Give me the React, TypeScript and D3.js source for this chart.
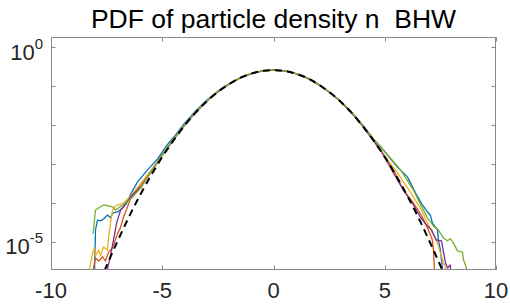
import { useEffect, useRef } from "react";
import * as d3 from "d3";

// each point: [x, log10(pdf)]
const blue: [number, number][] = [
  [-8.1, -6.2], [-8.04, -5.67], [-8.0, -4.69], [-7.91, -4.44], [-7.77, -4.46], [-7.64, -4.41],
  [-7.46, -4.31], [-7.32, -4.38], [-7.23, -4.26], [-7.01, -4.23], [-6.78, -4.13], [-6.6, -4.0],
  [-6.42, -3.77], [-6.11, -3.46], [-5.66, -3.15], [-5.2, -2.86], [-4.8, -2.52], [-4.4, -2.25],
  [-4, -1.96], [-3.5, -1.64], [-3, -1.36], [-2.5, -1.13], [-2, -0.94], [-1.5, -0.79], [-1, -0.68],
  [-0.5, -0.61], [0, -0.59], [0.5, -0.61], [1, -0.68], [1.5, -0.79], [2, -0.95], [2.5, -1.15],
  [3, -1.38], [3.5, -1.66], [4, -1.99], [4.5, -2.36], [4.94, -2.64], [5.57, -3.08], [6.02, -3.33],
  [6.38, -3.74], [6.69, -4.05], [6.92, -4.23], [7.05, -4.31], [7.14, -4.51], [7.37, -4.69],
  [7.41, -4.95], [7.5, -5.21], [7.59, -5.67], [7.62, -6.2],
];

const orange: [number, number][] = [
  [-8.12, -6.2], [-8.09, -5.67], [-8.0, -5.41], [-7.86, -5.49], [-7.68, -5.38], [-7.55, -5.49],
  [-7.41, -5.26], [-7.23, -5.15], [-7.14, -5.0], [-7.01, -4.79], [-6.87, -4.62], [-6.74, -4.36],
  [-6.56, -4.1], [-6.42, -3.87], [-6.0, -3.55], [-5.5, -3.18], [-5, -2.76], [-4.5, -2.36],
  [-4, -2.0], [-3.5, -1.67], [-3, -1.38], [-2.5, -1.14], [-2, -0.95], [-1.5, -0.79], [-1, -0.68],
  [-0.5, -0.61], [0, -0.59], [0.5, -0.61], [1, -0.68], [1.5, -0.79], [2, -0.95], [2.5, -1.15],
  [3, -1.39], [3.5, -1.68], [4, -2.02], [4.4, -2.33], [4.81, -2.64], [5.39, -3.15], [5.84, -3.67],
  [6.29, -4.0], [6.69, -4.36], [6.96, -4.69], [7.14, -4.95], [7.19, -5.21], [7.23, -5.67], [7.24, -6.2],
];

const yellow: [number, number][] = [
  [-8.3, -6.2], [-8.27, -5.69], [-8.13, -5.28], [-8.04, -5.15], [-8.0, -5.36], [-7.86, -5.21],
  [-7.77, -5.36], [-7.64, -5.13], [-7.46, -5.21], [-7.41, -4.87], [-7.32, -4.49], [-7.23, -4.18],
  [-7.1, -4.08], [-6.96, -4.05], [-6.74, -4.0], [-6.42, -3.82], [-6.0, -3.52], [-5.5, -3.16],
  [-5, -2.77], [-4.5, -2.37], [-4, -2.0], [-3.5, -1.67], [-3, -1.38], [-2.5, -1.14], [-2, -0.95],
  [-1.5, -0.79], [-1, -0.68], [-0.5, -0.61], [0, -0.59], [0.5, -0.61], [1, -0.68], [1.5, -0.79],
  [2, -0.95], [2.5, -1.15], [3, -1.39], [3.5, -1.67], [4, -2.01], [4.4, -2.32], [4.81, -2.64],
  [5.57, -3.23], [6.15, -3.72], [6.65, -4.18], [6.92, -4.51], [7.19, -4.82], [7.37, -5.03],
  [7.5, -5.28], [7.64, -5.54], [7.73, -5.67], [7.76, -6.2],
];

const purple: [number, number][] = [
  [-7.5, -6.2], [-7.46, -5.69], [-7.32, -5.33], [-7.19, -4.95], [-7.05, -4.51], [-6.87, -4.18],
  [-6.65, -4.03], [-6.38, -3.82], [-5.97, -3.59], [-5.5, -3.2], [-5, -2.78], [-4.5, -2.38],
  [-4, -2.01], [-3.5, -1.68], [-3, -1.39], [-2.5, -1.15], [-2, -0.95], [-1.5, -0.79], [-1, -0.68],
  [-0.5, -0.61], [0, -0.59], [0.5, -0.61], [1, -0.68], [1.5, -0.79], [2, -0.95], [2.5, -1.15],
  [3, -1.39], [3.5, -1.68], [4, -2.02], [4.4, -2.33], [4.81, -2.64], [5.39, -3.23], [5.84, -3.67],
  [6.29, -4.05], [6.6, -4.36], [6.87, -4.56], [7.1, -4.69], [7.32, -4.95], [7.55, -4.97],
  [7.64, -5.26], [7.73, -5.54], [7.82, -5.67], [7.95, -5.59], [7.98, -6.2],
];

const green: [number, number][] = [
  [-8.11, -4.79], [-8.0, -4.18], [-7.64, -4.05], [-7.23, -4.1], [-7.1, -4.18], [-6.78, -4.05],
  [-6.42, -3.9], [-5.97, -3.62], [-5.5, -3.19], [-5, -2.77], [-4.5, -2.37], [-4, -2.0],
  [-3.5, -1.67], [-3, -1.38], [-2.5, -1.14], [-2, -0.95], [-1.5, -0.79], [-1, -0.68], [-0.5, -0.61],
  [0, -0.59], [0.5, -0.61], [1, -0.68], [1.5, -0.79], [2, -0.95], [2.5, -1.15], [3, -1.38],
  [3.5, -1.66], [4, -2.0], [4.5, -2.36], [4.94, -2.64], [5.71, -3.15], [6.29, -3.67], [6.6, -4.03],
  [6.92, -4.38], [7.19, -4.59], [7.41, -4.69], [7.64, -4.9], [7.82, -4.97], [7.95, -4.92],
  [8.09, -5.03], [8.27, -5.23], [8.49, -5.26], [8.54, -5.46], [8.67, -5.67], [8.7, -6.2],
];

// gaussian reference (dashed)
const fitX = [-8, -7.5, -7, -6.5, -6, -5.5, -5, -4.5, -4, -3.5, -3, -2.5, -2, -1.5, -1, -0.5, 0,
  0.5, 1, 1.5, 2, 2.5, 3, 3.5, 4, 4.5, 5, 5.5, 6, 6.5, 7, 7.5, 8];
const fitLog = [-6.31, -5.61, -4.97, -4.36, -3.8, -3.29, -2.82, -2.4, -2.02, -1.68, -1.39, -1.15,
  -0.95, -0.79, -0.68, -0.61, -0.59, -0.61, -0.68, -0.79, -0.95, -1.15, -1.39, -1.68, -2.02, -2.4,
  -2.82, -3.29, -3.8, -4.36, -4.97, -5.61, -6.31];

const series = [
  { data: blue, color: "#0072BD" },
  { data: orange, color: "#D95319" },
  { data: yellow, color: "#EDB120" },
  { data: purple, color: "#7E2F8E" },
  { data: green, color: "#77AC30" },
];

const xTicks = [-10, -5, 0, 5, 10];
const yTickExp = [0, -1, -2, -3, -4, -5];
const yLabelExp = [0, -5];

export default function App() {
  const svgRef = useRef<SVGSVGElement | null>(null);

  useEffect(() => {
    const svg = d3.select(svgRef.current);
    svg.selectAll("*").remove();
    const width = 510;
    const height = 304;
    const margin = { top: 37, right: 14, bottom: 34, left: 51 };
    const font = "'Liberation Sans', Arial, Helvetica, sans-serif";

    const x = d3.scaleLinear().domain([-10, 10]).range([margin.left, width - margin.right]);
    const y = d3.scaleLog().domain([Math.pow(10, -5.72), Math.pow(10, 0.26)]).range([height - margin.bottom, margin.top]);
    const [x0, x1] = x.range();
    const [yb, yt] = y.range();

    svg.attr("width", width).attr("height", height).attr("viewBox", `0 0 ${width} ${height}`);

    svg.append("defs").append("clipPath").attr("id", "plot")
      .append("rect").attr("x", x0).attr("y", yt).attr("width", x1 - x0).attr("height", yb - yt);

    const line = d3.line<[number, number]>()
      .x((d) => x(d[0]))
      .y((d) => y(Math.pow(10, d[1])));

    const plot = svg.append("g").attr("clip-path", "url(#plot)");
    series.forEach((s) => {
      plot.append("path")
        .attr("d", line(s.data))
        .attr("fill", "none")
        .attr("stroke", s.color)
        .attr("stroke-width", 1.3)
        .attr("stroke-linejoin", "round");
    });

    const fit: [number, number][] = fitX.map((v, i) => [v, fitLog[i]]);
    plot.append("path")
      .attr("d", line.curve(d3.curveMonotoneX)(fit))
      .attr("fill", "none")
      .attr("stroke", "#000")
      .attr("stroke-width", 2)
      .attr("stroke-dasharray", "7,5");

    // axes box and ticks
    const axisColor = "#8a8a8a";
    const g = svg.append("g").attr("stroke", axisColor).attr("stroke-width", 1);
    g.append("rect")
      .attr("x", x0 + 0.5).attr("y", yt + 0.5)
      .attr("width", x1 - x0 - 1).attr("height", yb - yt - 1)
      .attr("fill", "none");

    xTicks.forEach((t) => {
      const px = Math.round(x(t)) + 0.5;
      g.append("line").attr("x1", px).attr("x2", px).attr("y1", yb).attr("y2", yb - 4.5);
      g.append("line").attr("x1", px).attr("x2", px).attr("y1", yt).attr("y2", yt + 4.5);
    });
    yTickExp.forEach((e) => {
      const py = Math.round(y(Math.pow(10, e))) + 0.5;
      g.append("line").attr("x1", x0).attr("x2", x0 + 4.5).attr("y1", py).attr("y2", py);
      g.append("line").attr("x1", x1).attr("x2", x1 - 4.5).attr("y1", py).attr("y2", py);
    });

    // x tick labels
    svg.append("g").selectAll("text").data(xTicks).join("text")
      .attr("x", (d) => x(d))
      .attr("y", yb + 28)
      .attr("text-anchor", "middle")
      .attr("font-family", font)
      .attr("font-size", 22)
      .attr("fill", "#262626")
      .text((d) => (d < 0 ? "-" + Math.abs(d) : String(d)));

    // y tick labels 10^e
    const yl = svg.append("g").attr("font-family", font).attr("fill", "#262626");
    yLabelExp.forEach((e) => {
      const t = yl.append("text")
        .attr("x", x0 - 8)
        .attr("y", y(Math.pow(10, e)) + 12.5)
        .attr("text-anchor", "end")
        .attr("font-size", 22);
      t.append("tspan").text("10");
      t.append("tspan").attr("font-size", 15).attr("dy", -11).text(e < 0 ? "-" + Math.abs(e) : String(e));
    });

    svg.append("text")
      .attr("x", (x0 + x1) / 2)
      .attr("y", 28)
      .attr("text-anchor", "middle")
      .attr("font-family", font)
      .attr("font-size", 26.5)
      .attr("fill", "#000")
      .style("white-space", "pre")
      .text("PDF of particle density n  BHW");
  }, []);

  return (
    <div style={{ position: "absolute", left: 0, top: 0 }}>
      <svg ref={svgRef} style={{ display: "block", background: "#fff" }} />
    </div>
  );
}
